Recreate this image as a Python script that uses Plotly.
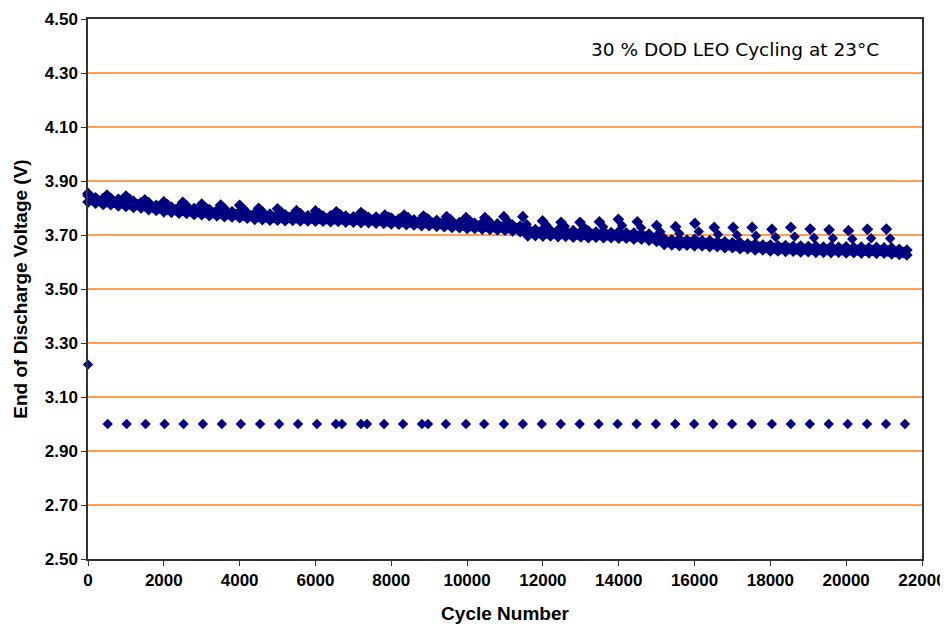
import plotly.graph_objects as go

# ---------------- data ----------------
band_cycles = list(range(0, 21601, 200))
band_upper = [3.846, 3.838, 3.835, 3.831, 3.832, 3.827, 3.825, 3.820, 3.817, 3.810,
              3.808, 3.803, 3.803, 3.799, 3.798, 3.794, 3.794, 3.790, 3.790, 3.786,
              3.786, 3.781, 3.780, 3.776, 3.777, 3.774, 3.775, 3.773, 3.774, 3.771,
              3.773, 3.770, 3.771, 3.769, 3.770, 3.767, 3.768, 3.765, 3.766, 3.762,
              3.763, 3.759, 3.760, 3.756, 3.757, 3.754, 3.754, 3.750, 3.750, 3.746,
              3.746, 3.743, 3.744, 3.740, 3.741, 3.737, 3.737, 3.733, 3.724, 3.720,
              3.721, 3.717, 3.718, 3.714, 3.716, 3.712, 3.714, 3.711, 3.713, 3.709,
              3.712, 3.707, 3.707, 3.703, 3.703, 3.695, 3.686, 3.682, 3.684, 3.681,
              3.684, 3.679, 3.679, 3.675, 3.675, 3.671, 3.671, 3.667, 3.667, 3.663,
              3.663, 3.660, 3.661, 3.658, 3.659, 3.657, 3.658, 3.655, 3.657, 3.654,
              3.656, 3.653, 3.655, 3.652, 3.654, 3.652, 3.652, 3.647, 3.644]
band_lower = [3.822, 3.818, 3.813, 3.812, 3.808, 3.806, 3.802, 3.800, 3.794, 3.791,
              3.786, 3.784, 3.781, 3.780, 3.776, 3.775, 3.772, 3.771, 3.768, 3.767,
              3.764, 3.762, 3.758, 3.757, 3.755, 3.755, 3.753, 3.754, 3.752, 3.752,
              3.751, 3.751, 3.749, 3.750, 3.748, 3.748, 3.746, 3.746, 3.744, 3.743,
              3.741, 3.740, 3.738, 3.737, 3.735, 3.735, 3.732, 3.731, 3.728, 3.727,
              3.724, 3.724, 3.722, 3.721, 3.719, 3.718, 3.715, 3.712, 3.697, 3.698,
              3.696, 3.697, 3.694, 3.695, 3.692, 3.693, 3.690, 3.692, 3.690, 3.690,
              3.688, 3.688, 3.685, 3.685, 3.681, 3.676, 3.665, 3.663, 3.661, 3.662,
              3.660, 3.660, 3.657, 3.657, 3.653, 3.653, 3.649, 3.649, 3.645, 3.645,
              3.641, 3.641, 3.639, 3.640, 3.637, 3.638, 3.636, 3.636, 3.635, 3.636,
              3.634, 3.635, 3.633, 3.634, 3.632, 3.633, 3.630, 3.628, 3.626]
band_mid_cycles = [100, 300, 500, 700, 900, 1100, 1300, 1500, 1700, 1900, 2100, 2300,
                   2500, 2700, 2900, 3100, 3300, 3500, 3700, 3900, 4100, 4300, 4500,
                   4700, 4900, 5100, 5300, 5500, 5700, 5900, 6100, 6300, 6500, 6700,
                   6900, 7100, 7300, 7500, 7700, 7900, 8100, 8300, 8500, 8700, 8900,
                   9100, 9300, 9500, 9700, 9900, 10100, 10300, 10500, 10700, 10900,
                   11100, 11300, 11500, 11700, 11900, 12100, 12300, 12500, 12700,
                   12900, 13100, 13300, 13500, 13700, 13900, 14100, 14300, 14500,
                   14700, 14900, 15100, 15300, 15500, 15700, 15900, 16100, 16300,
                   16500, 16700, 16900, 17100, 17300, 17500, 17700, 17900, 18100,
                   18300, 18500, 18700, 18900, 19100, 19300, 19500, 19700, 19900,
                   20100, 20300, 20500, 20700, 20900, 21100, 21300, 21500]
band_mid = [3.830, 3.826, 3.823, 3.821, 3.818, 3.815, 3.813, 3.808, 3.804, 3.799,
            3.795, 3.793, 3.791, 3.788, 3.786, 3.784, 3.782, 3.780, 3.778, 3.776,
            3.773, 3.771, 3.768, 3.766, 3.765, 3.764, 3.764, 3.763, 3.762, 3.762,
            3.761, 3.760, 3.760, 3.759, 3.758, 3.757, 3.756, 3.755, 3.754, 3.752,
            3.751, 3.749, 3.748, 3.746, 3.745, 3.744, 3.742, 3.740, 3.738, 3.736,
            3.734, 3.733, 3.732, 3.730, 3.729, 3.727, 3.724, 3.714, 3.709, 3.708,
            3.707, 3.706, 3.705, 3.704, 3.703, 3.702, 3.702, 3.701, 3.700, 3.700,
            3.699, 3.697, 3.695, 3.693, 3.689, 3.680, 3.674, 3.673, 3.672, 3.672,
            3.671, 3.669, 3.667, 3.665, 3.663, 3.661, 3.659, 3.657, 3.655, 3.653,
            3.651, 3.650, 3.649, 3.648, 3.648, 3.647, 3.646, 3.646, 3.645, 3.645,
            3.644, 3.644, 3.643, 3.643, 3.642, 3.640, 3.637, 3.635]

spike_cycles = [0, 500, 1000, 1500, 2000, 2500, 3000, 3500, 4000, 4500, 5000, 5500,
                6000, 6550, 7200, 7830, 8340, 8850, 9460, 9970, 10470, 10970, 11470,
                11990, 12480, 12980, 13490, 13990, 14490, 15000, 15500, 16010, 16520,
                17020, 17520, 18040, 18540, 19050, 19550, 20060, 20560, 21060]
spike_volts = [3.854, 3.848, 3.844, 3.830, 3.823, 3.821, 3.814, 3.811, 3.810, 3.799,
               3.797, 3.790, 3.789, 3.786, 3.783, 3.774, 3.774, 3.770, 3.768, 3.764,
               3.764, 3.768, 3.768, 3.752, 3.747, 3.747, 3.749, 3.758, 3.749, 3.735,
               3.731, 3.743, 3.728, 3.728, 3.728, 3.721, 3.728, 3.722, 3.719, 3.716,
               3.721, 3.722]

tail_cycles = [100, 600, 1100, 1600, 2100, 2600, 3100, 3600, 4100, 4600, 5100, 5600,
               6100, 6650, 7300, 7930, 8440, 8950, 9560, 10070, 10570, 11070, 11570,
               12090, 12580, 13080, 13590, 14090, 14590, 15100, 15600, 16110, 16620,
               17120, 17620, 18140, 18640, 19150, 19650, 20160, 20660, 21160]
tail_volts = [3.842, 3.838, 3.834, 3.822, 3.814, 3.810, 3.804, 3.800, 3.798, 3.788,
              3.786, 3.782, 3.781, 3.778, 3.775, 3.768, 3.767, 3.763, 3.759, 3.755,
              3.754, 3.752, 3.740, 3.737, 3.732, 3.730, 3.731, 3.735, 3.727, 3.712,
              3.706, 3.713, 3.702, 3.700, 3.697, 3.692, 3.694, 3.690, 3.688, 3.685,
              3.688, 3.687]

low_cycles = [0, 520, 1020, 1520, 2020, 2520, 3030, 3530, 4030, 4540, 5040, 5540,
              6040, 6540, 6700, 7200, 7360, 7810, 8310, 8810, 8970, 9440, 9970,
              10450, 10970, 11470, 11970, 12470, 12970, 13470, 13970, 14470, 14980,
              15490, 15990, 16490, 16990, 17510, 18040, 18540, 19040, 19540, 20040,
              20550, 21050, 21550]
low_volts = [3.22] + [3.00] * 45

y_ticks = [2.50, 2.70, 2.90, 3.10, 3.30, 3.50, 3.70, 3.90, 4.10, 4.30, 4.50]
x_ticks = [0, 2000, 4000, 6000, 8000, 10000, 12000, 14000, 16000, 18000, 20000, 22000]

# ---------------- figure ----------------
NAVY = "#000080"
fig = go.Figure()


def add(xs, ys, size):
    fig.add_trace(go.Scatter(
        x=xs, y=ys, mode="markers", cliponaxis=False, showlegend=False,
        marker=dict(symbol="diamond", size=size, color=NAVY,
                    line=dict(width=0)),
    ))


add(band_cycles, band_upper, 9)
add(band_cycles, band_lower, 9)
add(band_mid_cycles, band_mid, 9)
add(tail_cycles, tail_volts, 8)
add(spike_cycles, spike_volts, 9)
add(low_cycles, low_volts, 8)

tick_font = dict(family="Arial", size=17, color="black", weight="bold")
title_font = dict(family="Arial", size=19, color="black", weight="bold")

# the page body adds an 8px offset, so the figure is sized to fit inside it
fig.update_layout(
    width=940, height=616,
    margin=dict(l=80, r=26, t=11, b=65, autoexpand=False),
    paper_bgcolor="white", plot_bgcolor="white",
    xaxis=dict(
        range=[0, 22000], tickvals=x_ticks, ticktext=[str(v) for v in x_ticks],
        showgrid=False, zeroline=False, automargin=False,
        showline=True, linecolor="#333333", linewidth=1.5, mirror=True,
        ticks="outside", ticklen=5, tickcolor="#333333", tickwidth=1,
        tickfont=tick_font,
        title=dict(text="Cycle Number", font=title_font, standoff=24),
    ),
    yaxis=dict(
        range=[2.5, 4.5], tickvals=y_ticks, ticktext=[f"{v:.2f}" for v in y_ticks],
        showgrid=True, gridcolor="#FF9F55", gridwidth=1.5, zeroline=False,
        automargin=False,
        showline=True, linecolor="#333333", linewidth=1.5, mirror=True,
        ticks="outside", ticklen=5, tickcolor="#333333", tickwidth=1,
        tickfont=tick_font,
        title=dict(text="End of Discharge Voltage (V)", font=title_font, standoff=12),
    ),
    annotations=[dict(
        text="30 % DOD LEO Cycling at 23°C", xref="paper", yref="paper",
        x=0.776, y=0.943, xanchor="center", yanchor="middle", showarrow=False,
        font=dict(family="Comic Sans MS, DejaVu Sans, sans-serif", size=18.5, color="black"),
    )],
)

fig.write_html("out.html")
